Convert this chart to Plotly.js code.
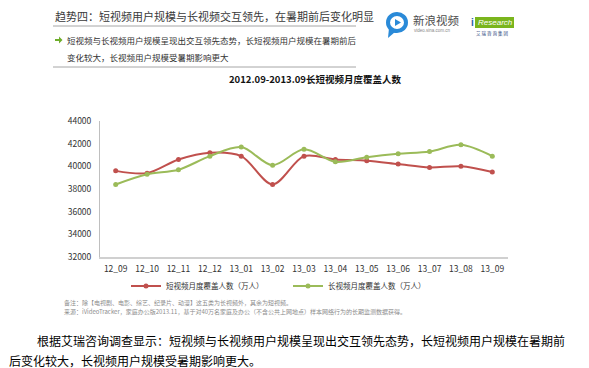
<!DOCTYPE html>
<html>
<head>
<meta charset="utf-8">
<script src="https://cdn.plot.ly/plotly-3.0.1.min.js"></script>
<style>
html,body{margin:0;padding:0;background:#fff;}
#chart{width:589px;height:368px;}
</style>
</head>
<body>
<div id="chart"></div>
<script>
// ---- data ----
var months = ['12_09','12_10','12_11','12_12','13_01','13_02','13_03','13_04','13_05','13_06','13_07','13_08','13_09'];
var shortVideo = [39600,39400,40600,41200,40900,38400,40900,40600,40500,40200,39900,40000,39500];
var longVideo  = [38400,39300,39700,40900,41700,40100,41500,40400,40800,41100,41300,41900,40900];
var seriesNames = ['短视频月度覆盖人数（万人）','长视频月度覆盖人数（万人）'];
var yTicks = [32000,34000,36000,38000,40000,42000,44000];
var chartTitle = '2012.09-2013.09长短视频月度覆盖人数';
var headTitle = '趋势四：短视频用户规模与长视频交互领先，在暑期前后变化明显';
var bullet1 = '短视频与长视频用户规模呈现出交互领先态势，长短视频用户规模在暑期前后';
var bullet2 = '变化较大，长视频用户规模受暑期影响更大';
var note1 = '备注：除【电视剧、电影、综艺、纪录片、动漫】这五类为长视频外，其余为短视频。';
var note2 = '来源：iVideoTracker，家庭办公版2013.11，基于对40万名家庭及办公（不含公共上网地点）样本网络行为的长期监测数据获得。';
var para1 = '根据艾瑞咨询调查显示：短视频与长视频用户规模呈现出交互领先态势，长短视频用户规模在暑期前';
var para2 = '后变化较大，长视频用户规模受暑期影响更大。';

// ---- geometry helpers (pixel -> paper) ----
var L = 100, R = 508, T = 121, B = 257;
function px(x){ return (x - L) / (R - L); }
function py(y){ return (B - y) / (B - T); }

var FONT = '"Noto Sans CJK SC", "Noto Sans", sans-serif';
var red = '#C0504D', green = '#9BBB59';

var traces = [
  {x: months, y: shortVideo, name: seriesNames[0], type: 'scatter', mode: 'lines+markers',
   line: {color: red, width: 2, shape: 'spline', smoothing: 0.9},
   marker: {color: red, size: 5, symbol: 'circle'}},
  {x: months, y: longVideo, name: seriesNames[1], type: 'scatter', mode: 'lines+markers',
   line: {color: green, width: 2, shape: 'spline', smoothing: 0.9},
   marker: {color: green, size: 5, symbol: 'circle'}}
];

function ann(text, x, y, size, color, extra){
  var a = {text: text, xref: 'paper', yref: 'paper', x: px(x), y: py(y),
    xanchor: 'left', yanchor: 'middle', showarrow: false,
    font: {family: FONT, size: size, color: color}};
  if (extra) for (var k in extra) a[k] = extra[k];
  return a;
}

var annotations = [
  ann(headTitle, 53, 16, 11, '#3a3a3a'),
  ann(bullet1, 65, 40, 8.5, '#333333'),
  ann(bullet2, 65, 57, 8.5, '#333333'),
  ann(note1, 62, 302, 6, '#8c8c8c'),
  ann(note2, 62, 311, 6, '#8c8c8c'),
  ann(para1, 35, 340, 12, '#000000'),
  ann(para2, 7, 360, 12, '#000000'),
  // logos text
  ann('新浪视频', 411, 20, 11.5, '#4d4d4d'),
  ann('video.sina.com.cn', 412, 31, 4.5, '#888888', {font:{family:'Liberation Sans, Arial', size:4.5, color:'#888'}}),
  ann('<i>Research</i>', 476, 22.5, 8, '#ffffff', {font:{family:'Liberation Sans, Arial', size:8, color:'#ffffff'}}),
  ann('<b>i</b>', 469, 22.5, 10, '#1F5FA8', {font:{family:'Liberation Sans, Arial', size:10, color:'#1F5FA8'}}),
  ann('艾 瑞 咨 询 集 团', 474, 33, 4.5, '#1F3F7A')
];

var shapes = [
  {type:'line', xref:'paper', yref:'paper', x0:px(53), x1:px(356), y0:py(26), y1:py(26), line:{color:'#A6A6A6', width:1}},
  {type:'line', xref:'paper', yref:'paper', x0:px(53), x1:px(356), y0:py(67), y1:py(67), line:{color:'#A6A6A6', width:1}},
  // green bullet arrow
  {type:'path', xref:'paper', yref:'paper',
   path:'M '+px(55)+' '+py(39)+' L '+px(59)+' '+py(39)+' L '+px(59)+' '+py(36.5)+' L '+px(62.5)+' '+py(40)+' L '+px(59)+' '+py(43.5)+' L '+px(59)+' '+py(41)+' L '+px(55)+' '+py(41)+' Z',
   fillcolor:'#6FAE2C', line:{width:0}},
  // sina icon
  {type:'circle', xref:'paper', yref:'paper', x0:px(386), x1:px(408), y0:py(12), y1:py(33), fillcolor:'#2A8AD8', line:{width:0}},
  {type:'path', xref:'paper', yref:'paper', path:'M '+px(389)+' '+py(28)+' L '+px(388)+' '+py(38)+' L '+px(395)+' '+py(32)+' Z', fillcolor:'#2A8AD8', line:{width:0}},
  {type:'circle', xref:'paper', yref:'paper', x0:px(390), x1:px(404), y0:py(16), y1:py(29), fillcolor:'#ffffff', line:{width:0}},
  {type:'path', xref:'paper', yref:'paper', path:'M '+px(395)+' '+py(19)+' L '+px(395)+' '+py(26)+' L '+px(401)+' '+py(22.5)+' Z', fillcolor:'#2A8AD8', line:{width:0}},
  // iResearch box
  {type:'rect', xref:'paper', yref:'paper', x0:px(475), x1:px(514), y0:py(17), y1:py(28), fillcolor:'#7AB51D', line:{width:0}}
];

var layout = {
  width: 589, height: 368,
  margin: {l: L, r: 589 - R, t: T, b: 368 - B, pad: 0},
  paper_bgcolor: '#ffffff', plot_bgcolor: '#ffffff',
  font: {family: FONT, color: '#333333'},
  title: {text: '<b>' + chartTitle + '</b>', font: {family: FONT, size: 9.5, color: '#111111'},
          xref: 'paper', x: px(315), xanchor: 'center', yref: 'container', y: 1 - 80/368, yanchor: 'middle'},
  xaxis: {type: 'category', range: [-0.5, 12.5], showgrid: false, zeroline: false,
          showline: true, linecolor: '#D0D0D0', linewidth: 2, ticks: '', ticklen: 0, ticklabelstandoff: 3,
          tickfont: {family: FONT, size: 8.5, color: '#333333'}, fixedrange: true},
  yaxis: {range: [32000, 44000], tickvals: yTicks, ticktext: yTicks.map(String), showgrid: false, zeroline: false,
          showline: true, linecolor: '#BFBFBF', linewidth: 1, ticks: '', ticklabelstandoff: 6,
          tickfont: {family: FONT, size: 8.5, color: '#333333'}, fixedrange: true},
  showlegend: true,
  legend: {orientation: 'h', x: px(126), y: py(286), xanchor: 'left', yanchor: 'middle',
           entrywidth: 117, entrywidthmode: 'pixels',
           font: {family: FONT, size: 7.5, color: '#333333'}, itemwidth: 30, bgcolor: 'rgba(0,0,0,0)'},
  annotations: annotations,
  shapes: shapes
};

Plotly.newPlot('chart', traces, layout, {displayModeBar: false, staticPlot: true});
</script>
</body>
</html>
